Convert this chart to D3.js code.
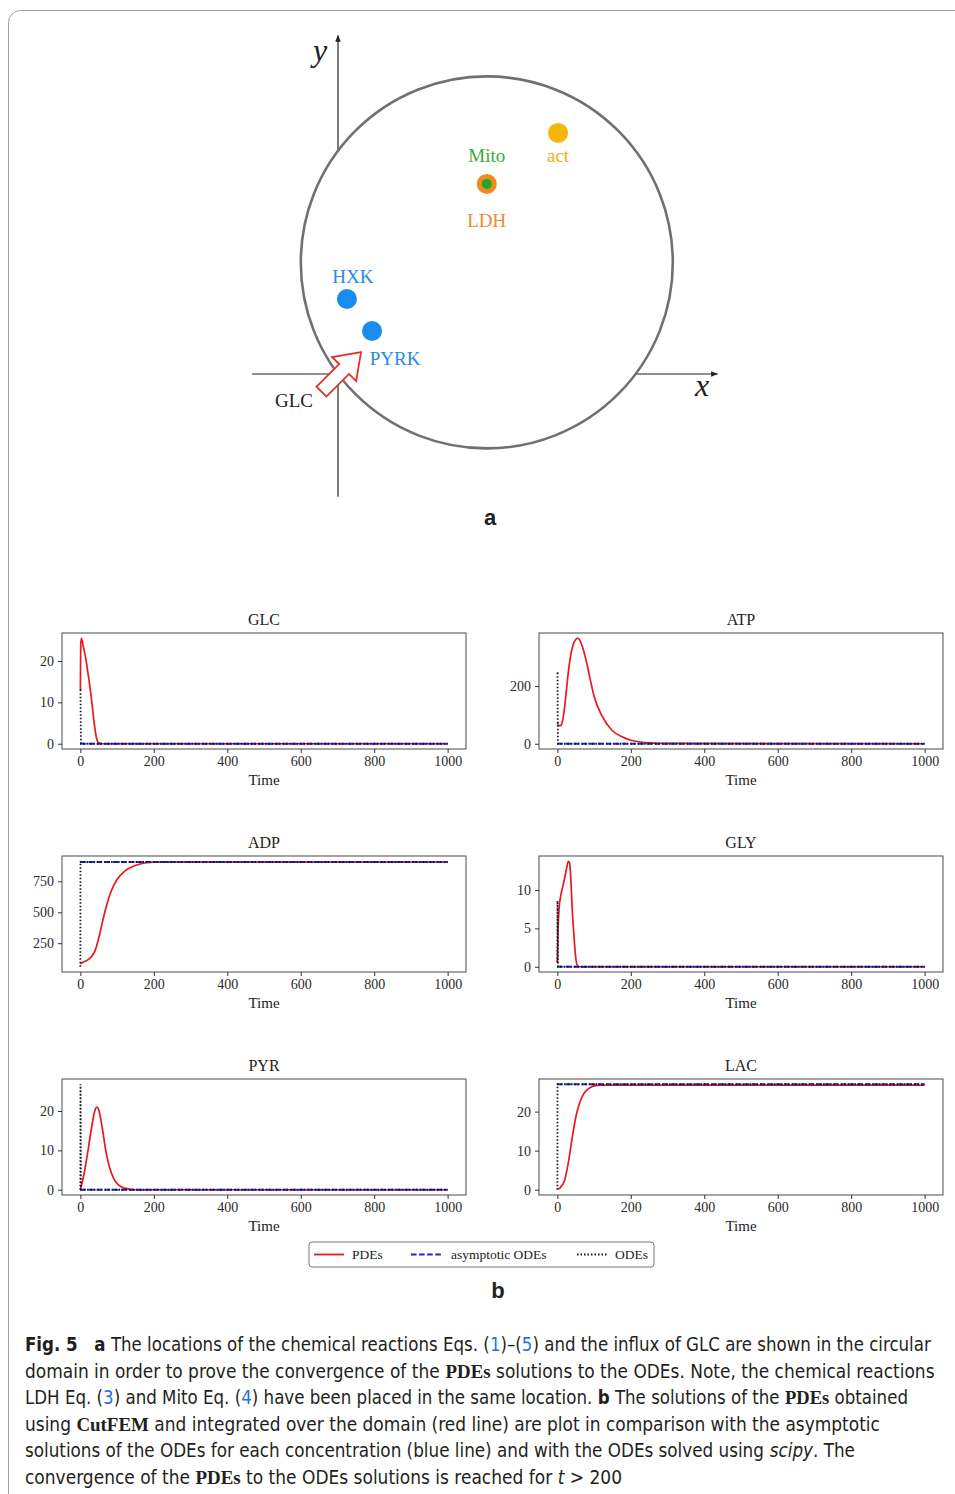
<!DOCTYPE html>
<html>
<head>
<meta charset="utf-8">
<script src="https://cdn.jsdelivr.net/npm/d3@7"></script>
<style>
  body { margin: 0; background: #fff; }
  svg { display: block; }
</style>
</head>
<body>
<svg id="fig"></svg>
<script>
// ---- panel a: reaction sites in the circular domain (domain units, radius = 1)
const siteNames = ['HXK', 'PYRK', 'LDH', 'act'];
const siteX = [0.048, 0.183, 0.8, 1.183];
const siteY = [0.403, 0.231, 1.022, 1.296];
const domainCenter = [0.8, 0.6];
const domainRadius = 1;
const influxTip = [0.124, 0.118];

// ---- panel b: time series
const xTicks = [0, 200, 400, 600, 800, 1000];
const odeTime = [0, 0.4, 1.5, 1000];

const glcTime = [0, 1, 3, 8, 15, 20, 25, 30, 35, 40, 45, 50, 60, 100, 1000];
const glcPde = [13, 24, 25.5, 23.5, 20.5, 17.5, 14.5, 11, 7, 3.5, 1, 0.2, 0, 0, 0];
const glcOde = [13, 13, 0, 0];

const atpTime = [0, 5, 10, 15, 20, 25, 30, 40, 50, 55, 60, 70, 80, 90, 100, 120, 150, 180, 200, 250, 300, 1000];
const atpPde = [72, 62, 64, 85, 130, 190, 250, 330, 362, 366, 362, 330, 280, 220, 165, 100, 45, 22, 12, 3, 1, 0];
const atpOde = [246, 246, 0, 0];

const adpTime = [0, 10, 20, 30, 40, 50, 60, 70, 80, 90, 100, 120, 140, 160, 180, 200, 1000];
const adpPde = [85, 100, 115, 140, 190, 290, 420, 540, 640, 712, 765, 830, 866, 888, 900, 905, 906];
const adpOde = [60, 912, 906, 906];

const glyTime = [0, 2, 5, 9, 15, 20, 25, 30, 33, 36, 41, 46, 50, 55, 60, 1000];
const glyPde = [0.5, 5, 7.8, 9.2, 10.5, 11.6, 12.8, 13.75, 13.6, 12, 7, 3.5, 1.2, 0.1, 0, 0];
const glyOde = [0.6, 8.6, 0, 0];

const pyrTime = [0, 10, 20, 30, 40, 45, 50, 60, 70, 80, 90, 100, 110, 120, 135, 150, 1000];
const pyrPde = [0, 4, 9.5, 15.5, 20.3, 21, 20.3, 15.5, 9.5, 5.5, 3, 1.6, 0.8, 0.4, 0.1, 0, 0];
const pyrOde = [0, 26.8, 0, 0];

const lacTime = [0, 5, 10, 20, 30, 40, 50, 60, 70, 80, 90, 100, 120, 1000];
const lacPde = [0.3, 0.3, 0.8, 2.5, 7, 13, 18.5, 22, 24.3, 25.5, 26.2, 26.6, 26.8, 26.8];
const lacOde = [0, 27, 27, 27];

const speciesNames = ['GLC', 'ATP', 'ADP', 'GLY', 'PYR', 'LAC'];
const asymptotes = [0, 0, 906, 0, 0, 27];
const yTicks = [[0, 10, 20], [0, 200], [250, 500, 750], [0, 5, 10], [0, 10, 20], [0, 10, 20]];

const legendLabels = ['PDEs', 'asymptotic ODEs', 'ODEs'];

const RED = '#e8191f';
const BLUE = '#2323d8';
const DOT = '#15152a';

const svg = d3.select('#fig').attr('width', 955).attr('height', 1494);

// page frame
svg.append('rect')
  .attr('x', 8.5).attr('y', 10.5)
  .attr('width', 970).attr('height', 1510)
  .attr('rx', 12)
  .attr('fill', 'none')
  .attr('stroke', '#a0a0a0')
  .attr('stroke-width', 1);

// ================= panel a =================
const ax = d3.scaleLinear().domain([0, 1]).range([338, 524]);
const ay = d3.scaleLinear().domain([0, 1]).range([374, 188]);
const ga = svg.append('g');

const defs = svg.append('defs');
defs.append('marker')
  .attr('id', 'arrowhead')
  .attr('viewBox', '0 0 10 10')
  .attr('refX', 9).attr('refY', 5)
  .attr('markerWidth', 7).attr('markerHeight', 7)
  .attr('markerUnits', 'userSpaceOnUse')
  .attr('orient', 'auto')
  .append('path')
  .attr('d', 'M0,1 L10,5 L0,9 Z')
  .attr('fill', '#222');

// coordinate axes
ga.append('line')
  .attr('x1', ax(-0.462)).attr('x2', ax(2.04))
  .attr('y1', ay(0)).attr('y2', ay(0))
  .attr('stroke', '#222').attr('stroke-width', 1.2)
  .attr('marker-end', 'url(#arrowhead)');
ga.append('line')
  .attr('x1', ax(0)).attr('x2', ax(0))
  .attr('y1', ay(-0.66)).attr('y2', ay(1.82))
  .attr('stroke', '#222').attr('stroke-width', 1.2)
  .attr('marker-end', 'url(#arrowhead)');

// circular domain (white fill hides the axes inside)
ga.append('circle')
  .attr('cx', ax(domainCenter[0]))
  .attr('cy', ay(domainCenter[1]))
  .attr('r', ax(domainRadius) - ax(0))
  .attr('fill', '#fff')
  .attr('stroke', '#707070')
  .attr('stroke-width', 2.6);

ga.append('text')
  .attr('x', 320).attr('y', 61)
  .attr('text-anchor', 'middle')
  .attr('font-family', "'Liberation Serif', serif")
  .attr('font-style', 'italic')
  .attr('font-size', 32)
  .attr('fill', '#222')
  .text('y');
ga.append('text')
  .attr('x', 702).attr('y', 396)
  .attr('text-anchor', 'middle')
  .attr('font-family', "'Liberation Serif', serif")
  .attr('font-style', 'italic')
  .attr('font-size', 32)
  .attr('fill', '#222')
  .text('x');

// GLC influx arrow
ga.append('path')
  .attr('transform', `translate(${ax(influxTip[0])},${ay(influxTip[1])}) rotate(-45)`)
  .attr('d', 'M0,0 L-24,-17 L-24,-7 L-56,-7 L-56,7 L-24,7 L-24,17 Z')
  .attr('fill', '#fff')
  .attr('stroke', '#e0302c')
  .attr('stroke-width', 1.8)
  .attr('stroke-linejoin', 'miter');
ga.append('text')
  .attr('x', 294).attr('y', 407)
  .attr('text-anchor', 'middle')
  .attr('font-family', "'Liberation Serif', serif")
  .attr('font-size', 19)
  .attr('fill', '#222')
  .text('GLC');

// reaction sites
const siteColor = ['#1a8cf0', '#1a8cf0', '#f08a24', '#f5b50a'];
const labelColor = ['#2b8ae6', '#2b8ae6', '#f0882e', '#f0b01a'];
const labelDx = [6, 23, 0, 0];
const labelDy = [-23, 27, 36, 22];

siteNames.forEach((name, i) => {
  const cx = ax(siteX[i]);
  const cy = ay(siteY[i]);
  ga.append('circle')
    .attr('cx', cx).attr('cy', cy).attr('r', 10)
    .attr('fill', siteColor[i]);
  if (name === 'LDH') {
    ga.append('circle')
      .attr('cx', cx).attr('cy', cy).attr('r', 5)
      .attr('fill', '#26a526');
    ga.append('text')
      .attr('x', cx).attr('y', cy - 29 + 7)
      .attr('text-anchor', 'middle')
      .attr('font-family', "'Liberation Serif', serif")
      .attr('font-size', 19)
      .attr('fill', '#3aa83a')
      .text('Mito');
  }
  ga.append('text')
    .attr('x', cx + labelDx[i]).attr('y', cy + labelDy[i] + 7)
    .attr('text-anchor', 'middle')
    .attr('font-family', "'Liberation Serif', serif")
    .attr('font-size', 19)
    .attr('fill', labelColor[i])
    .text(name);
});

svg.append('text')
  .attr('x', 490).attr('y', 525)
  .attr('text-anchor', 'middle')
  .attr('font-family', "'Liberation Sans', Arial, sans-serif")
  .attr('font-weight', 700)
  .attr('font-size', 22)
  .attr('fill', '#222')
  .text('a');

// ================= panel b =================
const pdeTimes = [glcTime, atpTime, adpTime, glyTime, pyrTime, lacTime];
const pdeValues = [glcPde, atpPde, adpPde, glyPde, pyrPde, lacPde];
const odeValues = [glcOde, atpOde, adpOde, glyOde, pyrOde, lacOde];

const colX = [62, 539];
const rowY = [633, 856, 1079];
const pw = 404;
const ph = 116;
const serif = "'Liberation Serif', 'DejaVu Serif', serif";

speciesNames.forEach((name, i) => {
  const g = svg.append('g')
    .attr('transform', `translate(${colX[i % 2]},${rowY[Math.floor(i / 2)]})`);

  const xPad = 1000 * 0.05;
  const x = d3.scaleLinear().domain([0 - xPad, 1000 + xPad]).range([0, pw]);

  const allY = pdeValues[i].concat(odeValues[i], [asymptotes[i]]);
  const [lo, hi] = d3.extent(allY);
  const pad = (hi - lo) * 0.05;
  const y = d3.scaleLinear().domain([lo - pad, hi + pad]).range([ph, 0]);

  const pdeData = pdeTimes[i].map((t, k) => [t, pdeValues[i][k]]);
  const odeData = odeTime.map((t, k) => [t, odeValues[i][k]]);
  const asymData = [[0, asymptotes[i]], [1000, asymptotes[i]]];

  const line = d3.line().x((d) => x(d[0])).y((d) => y(d[1]));

  g.append('path')
    .datum(pdeData)
    .attr('d', line.curve(d3.curveMonotoneX))
    .attr('fill', 'none')
    .attr('stroke', RED)
    .attr('stroke-width', 1.7);

  g.append('path')
    .datum(asymData)
    .attr('d', line.curve(d3.curveLinear))
    .attr('fill', 'none')
    .attr('stroke', BLUE)
    .attr('stroke-width', 1.8)
    .attr('stroke-dasharray', '5.5,2.6');

  g.append('path')
    .datum(odeData)
    .attr('d', line.curve(d3.curveLinear))
    .attr('fill', 'none')
    .attr('stroke', DOT)
    .attr('stroke-width', 1.8)
    .attr('stroke-dasharray', '1.5,2');

  // frame
  g.append('rect')
    .attr('x', 0).attr('y', 0)
    .attr('width', pw).attr('height', ph)
    .attr('fill', 'none')
    .attr('stroke', '#4a4a4a')
    .attr('stroke-width', 1);

  const xAxis = g.append('g')
    .attr('transform', `translate(0,${ph})`)
    .call(d3.axisBottom(x).tickValues(xTicks).tickFormat(d3.format('d')).tickSize(4).tickPadding(3));
  const yAxis = g.append('g')
    .call(d3.axisLeft(y).tickValues(yTicks[i]).tickFormat(d3.format('d')).tickSize(4).tickPadding(4));

  [xAxis, yAxis].forEach((a) => {
    a.select('.domain').remove();
    a.selectAll('line').attr('stroke', '#333');
    a.selectAll('text')
      .attr('font-family', serif)
      .attr('font-size', 14)
      .attr('fill', '#2a2a2a');
  });

  g.append('text')
    .attr('x', pw / 2).attr('y', -8)
    .attr('text-anchor', 'middle')
    .attr('font-family', serif)
    .attr('font-size', 16)
    .attr('fill', '#222')
    .text(name);

  g.append('text')
    .attr('x', pw / 2).attr('y', ph + 36)
    .attr('text-anchor', 'middle')
    .attr('font-family', serif)
    .attr('font-size', 15)
    .attr('fill', '#222')
    .text('Time');
});

// legend
const lg = svg.append('g').attr('transform', 'translate(309,1242)');
lg.append('rect')
  .attr('width', 345).attr('height', 25)
  .attr('rx', 3)
  .attr('fill', '#fff')
  .attr('stroke', '#777')
  .attr('stroke-width', 1);
const legendStroke = [RED, BLUE, DOT];
const legendDash = [null, '5.5,2.6', '1.5,2'];
const legendX = [5, 102, 268];
const legendTextX = [43, 142, 306];
legendLabels.forEach((lab, i) => {
  lg.append('line')
    .attr('x1', legendX[i]).attr('x2', legendX[i] + 30)
    .attr('y1', 12.5).attr('y2', 12.5)
    .attr('stroke', legendStroke[i])
    .attr('stroke-width', 1.8)
    .attr('stroke-dasharray', legendDash[i]);
  lg.append('text')
    .attr('x', legendTextX[i]).attr('y', 17)
    .attr('font-family', serif)
    .attr('font-size', 13.5)
    .attr('fill', '#222')
    .text(lab);
});

svg.append('text')
  .attr('x', 498).attr('y', 1298)
  .attr('text-anchor', 'middle')
  .attr('font-family', "'Liberation Sans', Arial, sans-serif")
  .attr('font-weight', 700)
  .attr('font-size', 22)
  .attr('fill', '#222')
  .text('b');

// ================= caption =================
// each line is laid out piece by piece, then squeezed horizontally to the reference width
const capLines = [
  [['b', 'Fig. 5'], ['', '\u2002\u2002'], ['b', 'a'], ['', ' The locations of the chemical reactions Eqs. ('], ['l', '1'], ['', ')\u2013('], ['l', '5'], ['', ') and the influx of GLC are shown in the circular']],
  [['', 'domain in order to prove the convergence of the '], ['s', 'PDEs'], ['', ' solutions to the ODEs. Note, the chemical reactions']],
  [['', 'LDH Eq. ('], ['l', '3'], ['', ') and Mito Eq. ('], ['l', '4'], ['', ') have been placed in the same location. '], ['b', 'b'], ['', ' The solutions of the '], ['s', 'PDEs'], ['', ' obtained']],
  [['', 'using '], ['s', 'CutFEM'], ['', ' and integrated over the domain (red line) are plot in comparison with the asymptotic']],
  [['', 'solutions of the ODEs for each concentration (blue line) and with the ODEs solved using '], ['i', 'scipy'], ['', '. The']],
  [['', 'convergence of the '], ['s', 'PDEs'], ['', ' to the ODEs solutions is reached for '], ['i', 't'], ['', ' > 200']],
];
const capWidths = [906, 910, 883, 856, 830, 597];

capLines.forEach((parts, li) => {
  const lineG = svg.append('g');
  let cursor = 0;
  parts.forEach(([kind, str]) => {
    const t = lineG.append('text')
      .attr('x', cursor).attr('y', 0)
      .attr('xml:space', 'preserve')
      .style('white-space', 'pre')
      .attr('font-family', "'Liberation Sans Narrow', 'DejaVu Sans Condensed', 'Open Sans', sans-serif")
      .attr('font-size', 19.5)
      .attr('fill', '#231f20')
      .text(str);
    if (kind === 'b') t.attr('font-weight', 700);
    if (kind === 'l') t.attr('fill', '#2f6fd8');
    if (kind === 'i') t.attr('font-style', 'italic');
    if (kind === 's') t.attr('font-family', serif).attr('font-weight', 600);
    cursor += t.node().getComputedTextLength();
  });
  const sx = capWidths[li] / cursor;
  lineG.attr('transform', `translate(25,${1351 + li * 26.5}) scale(${sx},1)`);
});
</script>
</body>
</html>
